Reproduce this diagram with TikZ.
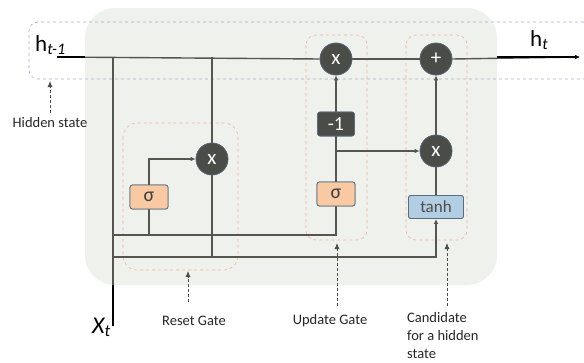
\documentclass[tikz,border=0pt]{standalone}
\usepackage{fontspec}
\setmainfont{Carlito}
\usetikzlibrary{arrows.meta}
\definecolor{bgc}{HTML}{EFF2EC}
\definecolor{wire}{HTML}{55574F}
\definecolor{opfill}{HTML}{4A4C48}
\definecolor{opline}{HTML}{5C6C80}
\definecolor{sigfill}{HTML}{F8C9A2}
\definecolor{tanhfill}{HTML}{B2CEE2}
\definecolor{gatedash}{HTML}{F4ADA2}
\definecolor{banddash}{HTML}{A8AECB}
\begin{document}
\begin{tikzpicture}[x=1pt,y=-1pt,
  wireline/.style={draw=wire,line width=1.4pt},
  tip/.style={-{Latex[length=5pt,width=4.5pt]}},
  opnode/.style={circle,fill=opfill,draw=opline,line width=0.6pt,minimum size=32pt,inner sep=0pt,text=white,font=\fontsize{21}{21}\selectfont},
  sigbox/.style={rectangle,rounded corners=2.5pt,fill=sigfill,draw=opline,line width=0.8pt,minimum width=38pt,minimum height=24pt,inner sep=0pt,text=black!75,font=\fontsize{20}{20}\selectfont},
  tanhbox/.style={rectangle,rounded corners=2.5pt,fill=tanhfill,draw=opline,line width=0.8pt,minimum width=55pt,minimum height=23pt,inner sep=0pt,text=black!70,font=\fontsize{17}{17}\selectfont},
  negbox/.style={rectangle,rounded corners=2.5pt,fill=opfill,draw=opline,line width=0.6pt,minimum width=37pt,minimum height=24pt,inner sep=0pt,text=white,font=\fontsize{20}{20}\selectfont},
  gatebox/.style={draw=gatedash,dashed,line width=0.6pt},
  pointer/.style={draw=black!70,densely dashed,line width=0.8pt,-{Latex[length=6pt,width=5pt]}},
  caption/.style={font=\fontsize{14.5}{18}\selectfont,text=black!85,inner sep=0pt}
]
\useasboundingbox (0,0) rectangle (584,362);
% background
\fill[bgc,rounded corners=30pt] (85,8) rectangle (497,285);
% hidden-state band
\draw[banddash,dashed,line width=0.6pt,rounded corners=9pt] (584,22) -- (29,22) -- (29,79) -- (584,79);
% gate boxes
\draw[gatebox,rounded corners=14pt] (123,123) rectangle (238,270);
\draw[gatebox,rounded corners=10pt] (306,35) rectangle (367,240);
\draw[gatebox,rounded corners=10pt] (406,35) rectangle (467,240);

% coordinates
\coordinate (hin) at (57,57);
\coordinate (hinb) at (85,57);
\coordinate (houtb) at (497,57);
\coordinate (hout) at (580,57);
\coordinate (xt) at (113,326);
\coordinate (xtb) at (113,285);
\coordinate (j1) at (113,57);
\coordinate (j2) at (212,57);
\coordinate (j3) at (212,257);
\coordinate (l1) at (113,235);
\coordinate (l2) at (113,257);
\coordinate (rsb) at (149,235);
\coordinate (br) at (336,151);

% nodes (placed first so wires can refer to them)
\node[opnode] (rx) at (212,159) {x};
\node[sigbox] (rs) at (149,197) {σ};
\node[opnode] (ux) at (336,59) {x};
\node[negbox] (um) at (336,124) {-1};
\node[sigbox] (us) at (336,194) {σ};
\node[opnode] (cp) at (436,59) {+};
\node[opnode] (cx) at (436,151) {x};
\node[tanhbox] (ct) at (436,207) {tanh};

% wires
\draw[wireline] (hin) -- (ux.west);
\draw[wireline] (ux.east) -- (cp.west);
\draw[wireline,tip] (cp.east) -- (hout);
\draw[black,line width=1.8pt] (hin) -- (hinb);
\draw[black,line width=1.8pt,tip] (houtb) -- (hout);

\draw[wireline] (j1) -- (xtb);
\draw[black,line width=1.8pt] (xtb) -- (xt);
\draw[wireline] (j2) -- (rx.north);
\draw[wireline] (rx.south) -- (j3);
\draw[wireline,tip] (rs.north) |- (rx.west);
\draw[wireline] (rs.south) -- (rsb);
\draw[wireline] (l1) -| (us.south);
\draw[wireline,tip] (l2) -| (ct.south);
\draw[wireline] (us.north) -- (um.south);
\draw[wireline,tip] (um.north) -- (ux.south);
\draw[wireline,tip] (br) -- (cx.west);
\draw[wireline] (ct.north) -- (cx.south);
\draw[wireline,tip] (cx.north) -- (cp.south);

% redraw nodes on top of wires
\node[opnode] at (rx) {x};
\node[sigbox] at (rs) {σ};
\node[opnode] at (ux) {x};
\node[negbox] at (um) {-1};
\node[sigbox] at (us) {σ};
\node[opnode] at (cp) {+};
\node[opnode] at (cx) {x};
\node[tanhbox] at (ct) {tanh};

% labels
\node[inner sep=0pt,anchor=base west,font=\fontsize{23}{23}\selectfont] (hlab) at (35,51) {h\textsubscript{\itshape t-1}};
\node[inner sep=0pt,anchor=base west,font=\fontsize{23}{23}\selectfont] (htlab) at (530,46) {h\textsubscript{\itshape t}};
\node[inner sep=0pt,anchor=base west,font=\fontsize{24}{24}\selectfont\itshape] (xlab) at (92,333) {X\textsubscript{t}};

\node[caption] (hs) at (50,123) {Hidden state};
\node[caption] (rg) at (194,321) {Reset Gate};
\node[caption] (ug) at (330,321) {Update Gate};
\node[caption,anchor=north west,align=left] (cd) at (407,312) {Candidate\\for a hidden\\state};

\coordinate (p1a) at (50,113); \coordinate (p1b) at (50,81);
\coordinate (p2a) at (188,302); \coordinate (p2b) at (188,271);
\coordinate (p3a) at (337,306); \coordinate (p3b) at (337,243);
\coordinate (p4a) at (447,306); \coordinate (p4b) at (447,243);
\draw[pointer] (p1a) -- (p1b);
\draw[pointer] (p2a) -- (p2b);
\draw[pointer] (p3a) -- (p3b);
\draw[pointer] (p4a) -- (p4b);
\end{tikzpicture}
\end{document}
